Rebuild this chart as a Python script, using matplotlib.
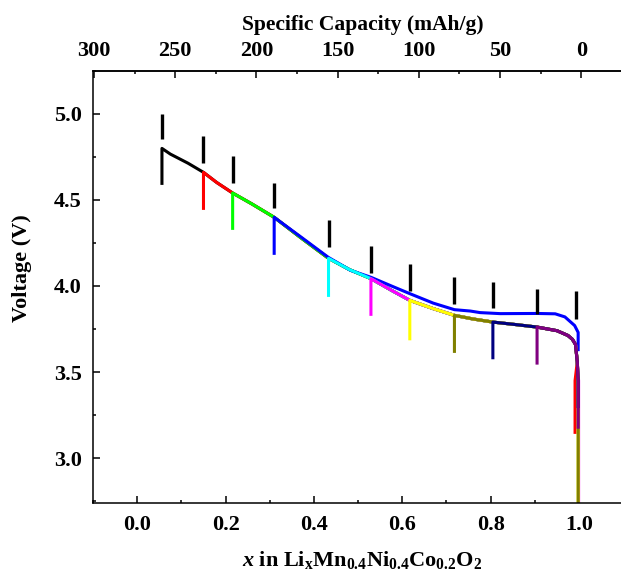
import numpy as np
import matplotlib
matplotlib.use("Agg")
import matplotlib.pyplot as plt
from matplotlib.ticker import MultipleLocator, FixedLocator

plt.rcParams['font.family'] = 'Liberation Serif'
plt.rcParams['font.weight'] = 'bold'
plt.rcParams['mathtext.fontset'] = 'custom'
plt.rcParams['mathtext.rm'] = 'Liberation Serif:bold'
plt.rcParams['mathtext.it'] = 'Liberation Serif:italic:bold'
plt.rcParams['mathtext.bf'] = 'Liberation Serif:bold'

# discharge curve (x in LixMn0.4Ni0.4Co0.2O2, voltage)
x_main = [0.056, 0.075, 0.115, 0.150, 0.180, 0.216, 0.260, 0.310, 0.370, 0.433,
          0.480, 0.529, 0.575, 0.617, 0.670, 0.718, 0.760, 0.805, 0.855, 0.905,
          0.950, 0.975, 0.985, 0.992, 0.996]
v_main = [4.798, 4.765, 4.712, 4.659, 4.600, 4.539, 4.475, 4.398, 4.280, 4.160,
          4.095, 4.042, 3.975, 3.916, 3.868, 3.829, 3.808, 3.790, 3.776, 3.761,
          3.740, 3.712, 3.690, 3.660, 3.560]

# the blue run sits higher at the end
x_blue = [0.310, 0.370, 0.433, 0.483, 0.529, 0.575, 0.617, 0.670, 0.718, 0.754,
          0.776, 0.822, 0.905, 0.946, 0.968, 0.990, 0.998, 0.998]
v_blue = [4.398, 4.285, 4.165, 4.090, 4.050, 4.000, 3.955, 3.900, 3.862, 3.854,
          3.845, 3.839, 3.840, 3.838, 3.820, 3.770, 3.730, 3.630]

colors = ['#000000', '#ff0000', '#00ff00', '#0000ff', '#00ffff',
          '#ff00ff', '#ffff00', '#808000', '#000080', '#800080']
start_x = [0.056, 0.150, 0.216, 0.310, 0.433, 0.529, 0.617, 0.718, 0.805, 0.905]
start_low = [4.595, 4.450, 4.334, 4.189, 3.945, 3.835, 3.693, 3.620, 3.583, 3.552]
end_x = [0.998, 0.991, 0.998, 0.998, 0.998, 0.999, 0.998, 0.998, 0.998, 0.998]
end_v = [3.30, 3.15, 3.30, 3.62, 3.30, 2.70, 2.70, 2.70, 3.30, 3.18]

# black vertical bars above each start
bar_x = [0.056, 0.150, 0.216, 0.310, 0.433, 0.529, 0.617, 0.718, 0.805, 0.905, 0.994]
bar_lo = [4.850, 4.711, 4.600, 4.450, 4.224, 4.074, 3.970, 3.897, 3.873, 3.839, 3.810]
bar_hi = [5.000, 4.868, 4.752, 4.595, 4.380, 4.230, 4.125, 4.050, 4.022, 3.984, 3.970]

cap_ticks = [0, 50, 100, 150, 200, 250, 300]

fig = plt.figure(figsize=(6.21, 5.71), dpi=100)
ax = fig.add_axes((0.1498, 0.1191, 0.868, 0.7574))

for i, c in enumerate(colors):
    if c == '#0000ff':
        xs = [start_x[i]] + x_blue
        vs = [start_low[i]] + v_blue
    else:
        k = x_main.index(start_x[i])
        xs = [start_x[i]] + x_main[k:] + [end_x[i], end_x[i]]
        vs = [start_low[i]] + v_main[k:] + [3.45, end_v[i]]
    ax.plot(xs, vs, color=c, lw=2.2, solid_joinstyle='round')

ax.vlines(bar_x, bar_lo, bar_hi, color='black', lw=2.4)

ax.set_xlim(-0.1, 1.12)
ax.set_ylim(2.74, 5.25)
ax.xaxis.set_major_locator(MultipleLocator(0.2))
ax.xaxis.set_minor_locator(MultipleLocator(0.1))
ax.yaxis.set_major_locator(MultipleLocator(0.5))
ax.yaxis.set_minor_locator(MultipleLocator(0.25))
ax.tick_params(which='both', direction='in', top=False, right=False, width=1.1,
               labelsize=16)
ax.tick_params(axis='x', pad=9)
ax.tick_params(axis='y', pad=8)
ax.tick_params(which='major', length=5)
ax.tick_params(which='minor', length=2.5)
ax.spines['right'].set_visible(False)
for s in ['left', 'bottom', 'top']:
    ax.spines[s].set_linewidth(1.1)

ax.set_ylabel('Voltage (V)', fontsize=16, fontweight='bold')
ax.yaxis.set_label_coords(-0.113, 0.543)
ax.set_xlabel(r'$\mathit{x}$ in Li$_\mathrm{x}$Mn$_\mathrm{0.4}$Ni$_\mathrm{0.4}$Co$_\mathrm{0.2}$O$_\mathrm{2}$',
              fontsize=16, fontweight='bold', labelpad=10)

def to_cap(x):
    return (1.005 - np.asarray(x)) * 272.0

def to_x(c):
    return 1.005 - np.asarray(c) / 272.0

top = ax.secondary_xaxis('top', functions=(to_cap, to_x))
top.xaxis.set_major_locator(FixedLocator(cap_ticks))
top.xaxis.set_minor_locator(FixedLocator([25, 75, 125, 175, 225, 275]))
top.tick_params(which='both', direction='in', width=1.1, labelsize=16, pad=7)
top.tick_params(which='major', length=5)
top.tick_params(which='minor', length=2.5)
top.spines['top'].set_linewidth(1.1)
top.set_xlabel('Specific Capacity (mAh/g)', fontsize=15.5, fontweight='bold', labelpad=8)

fig.savefig('out.png', dpi=100)
